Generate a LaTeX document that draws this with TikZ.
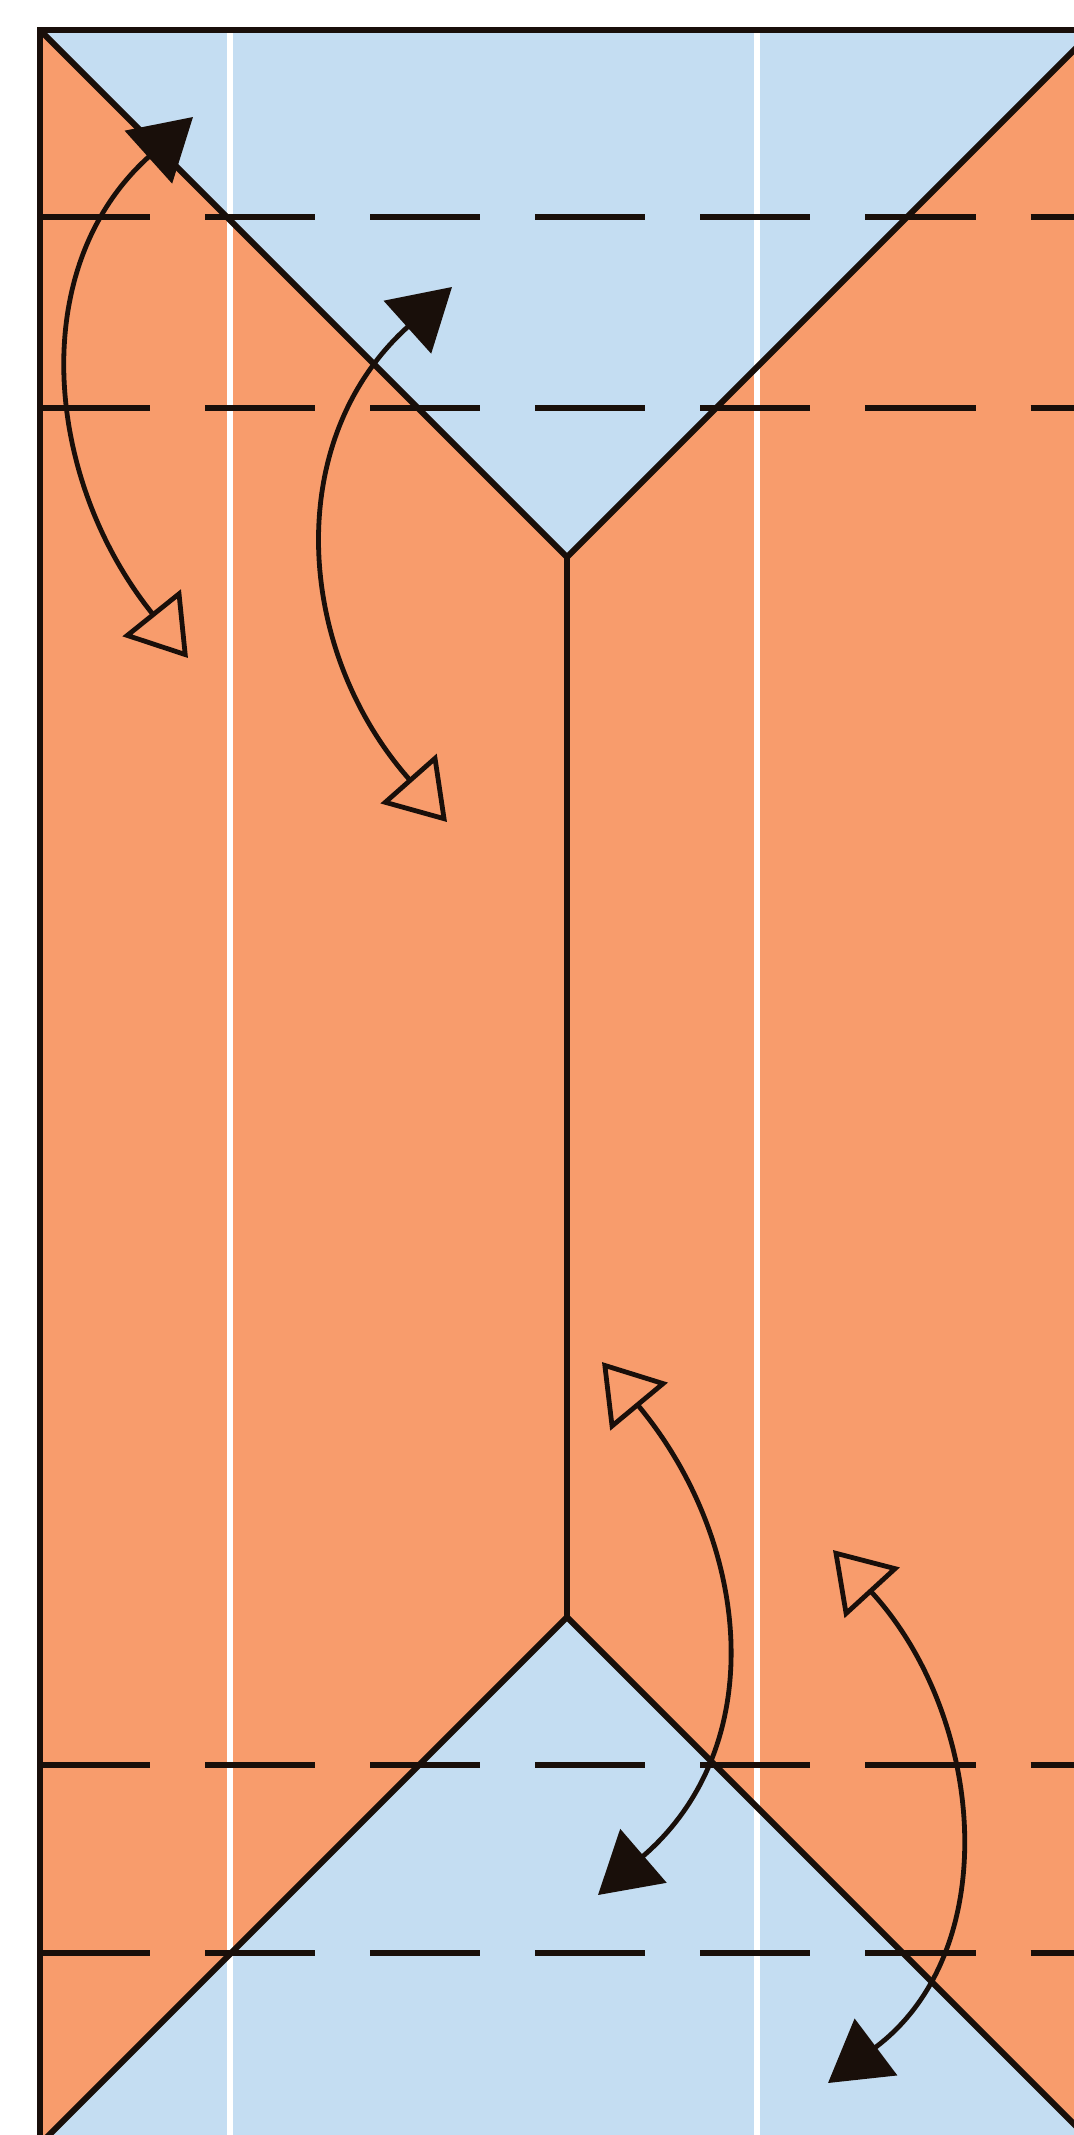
\documentclass[tikz,border=0pt]{standalone}
\usetikzlibrary{arrows.meta}
\definecolor{paperorange}{RGB}{248,156,108}
\definecolor{paperblue}{RGB}{196,221,242}
\definecolor{inkline}{RGB}{25,15,10}
\begin{document}
\begin{tikzpicture}[x=0.01cm,y=-0.01cm,
  edge/.style={line width=0.06cm, inkline, line join=miter},
  fold/.style={line width=0.06cm, inkline, dash pattern=on 1.1cm off 0.55cm},
  crease/.style={white, line width=0.055cm},
  fillhead/.tip={Triangle[length=0.6cm,width=0.7cm]},
  openhead/.tip={Triangle[open,length=0.58cm,width=0.74cm]},
  flipdown/.style={line width=0.048cm, inkline, {fillhead}-{openhead}},
  flipup/.style={line width=0.048cm, inkline, {openhead}-{fillhead}},
]
\useasboundingbox (0,0) rectangle (1074,2135);
\clip (0,0) rectangle (1074,2135);
\fill[white] (0,0) rectangle (1074,2135);
% paper corners
\coordinate (TL) at (40,30);
\coordinate (TR) at (1094,30);
\coordinate (TA) at (567,557);
\coordinate (BA) at (567,1617);
\coordinate (BL) at (41,2143);
\coordinate (BR) at (1093,2143);
% colours
\fill[paperorange] (40,30) rectangle (1120,2160);
\fill[paperblue] (TL) -- (TR) -- (TA) -- cycle;
\fill[paperblue] (BA) -- (BL) -- (BR) -- cycle;
% white creases
\coordinate (C1t) at (230,30);
\coordinate (C1b) at (230,2160);
\coordinate (C2t) at (757,30);
\coordinate (C2b) at (757,2160);
\draw[crease] (C1t) -- (C1b);
\draw[crease] (C2t) -- (C2b);
% dashed fold lines
\foreach \yy/\nm in {217/d1,408/d2,1765/d3,1953/d4}{
  \coordinate (\nm l) at (40,\yy);
  \coordinate (\nm r) at (1120,\yy);
  \draw[fold] (\nm l) -- (\nm r);
}
% outline and edges
\coordinate (Lb) at (40,2160);
\coordinate (Tr) at (1120,30);
\draw[edge] (TA) -- (BA);
\draw[edge] (Lb) -- (TL) -- (Tr);
\draw[edge] (TL) -- (TA) -- (TR);
\draw[edge] (BL) -- (BA) -- (BR);
% arrows
\coordinate (a1s) at (193,117);
\coordinate (a1e) at (188,658);
\coordinate (a2s) at (452,287);
\coordinate (a2e) at (447,822);
\coordinate (a3s) at (602,1362);
\coordinate (a3e) at (598,1895);
\coordinate (a4s) at (833,1550);
\coordinate (a4e) at (828,2083);
\draw[flipdown] (a1s) .. controls (25,268) and (45,480) .. (a1e);
\draw[flipdown] (a2s) .. controls (282,440) and (295,650) .. (a2e);
\draw[flipup] (a3s) .. controls (750,1540) and (772,1745) .. (a3e);
\draw[flipup] (a4s) .. controls (985,1716) and (1005,1950) .. (a4e);
\end{tikzpicture}
\end{document}
